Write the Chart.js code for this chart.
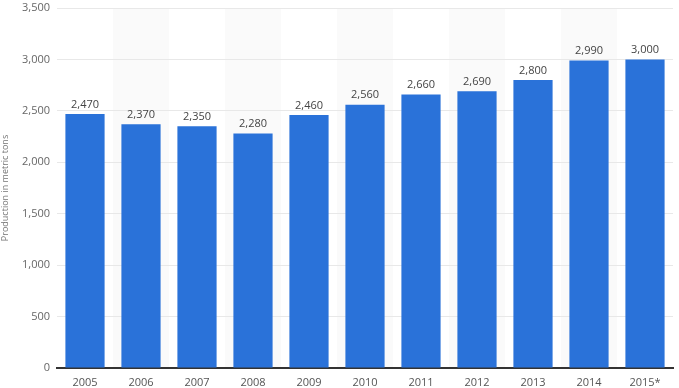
<!DOCTYPE html>
<html>
<head>
<meta charset="utf-8">
<script src="https://cdn.jsdelivr.net/npm/chart.js@4/dist/chart.umd.min.js"></script>
<style>
  html, body { margin: 0; padding: 0; background: #fff; }
  #wrap { width: 679px; height: 388px; }
</style>
</head>
<body>
<div id="wrap"><canvas id="prodChart" width="679" height="388"></canvas></div>
<script>
// ==============================
// DATA
// ==============================
const years = ["2005", "2006", "2007", "2008", "2009", "2010", "2011", "2012", "2013", "2014", "2015*"];
const production = [2470, 2370, 2350, 2280, 2460, 2560, 2660, 2690, 2800, 2990, 3000];
const yTicks = [0, 500, 1000, 1500, 2000, 2500, 3000, 3500];

const fmt = (v) => v.toLocaleString("en-US");

// alternating column bands
const bandPlugin = {
  id: "bands",
  beforeDraw(chart) {
    const { ctx, chartArea } = chart;
    const x = chart.scales.x;
    const step = x.getPixelForValue(1) - x.getPixelForValue(0);
    ctx.save();
    ctx.fillStyle = "#fafafa";
    years.forEach((y, i) => {
      if (i % 2 === 1) {
        const cx = x.getPixelForValue(i);
        ctx.fillRect(cx - step / 2, chartArea.top, step, chartArea.bottom - chartArea.top);
      }
    });
    ctx.restore();
  }
};

// value labels above bars
const valuePlugin = {
  id: "values",
  afterDatasetsDraw(chart) {
    const { ctx } = chart;
    const meta = chart.getDatasetMeta(0);
    ctx.save();
    ctx.font = "11px 'Open Sans', sans-serif";
    ctx.fillStyle = "#444";
    ctx.textAlign = "center";
    ctx.textBaseline = "bottom";
    meta.data.forEach((bar, i) => {
      ctx.fillText(fmt(production[i]), bar.x, bar.y - 4);
    });
    ctx.restore();
  }
};

new Chart(document.getElementById("prodChart").getContext("2d"), {
  type: "bar",
  data: {
    labels: years,
    datasets: [{
      data: production,
      backgroundColor: "#2a72d9",
      categoryPercentage: 1,
      barPercentage: 0.7
    }]
  },
  options: {
    responsive: false,
    animation: false,
    layout: { padding: { top: 0, right: 6, left: 0, bottom: 0 } },
    plugins: { legend: { display: false }, tooltip: { enabled: false } },
    scales: {
      x: {
        afterFit(scale) { scale.height = 20; },
        grid: { display: false },
        border: { color: "#333", width: 2 },
        ticks: { color: "#555", font: { size: 11, family: "'Open Sans', sans-serif" }, padding: 0 }
      },
      y: {
        min: 0,
        max: 3500,
        afterBuildTicks(scale) { scale.ticks = yTicks.map((v) => ({ value: v })); },
        afterFit(scale) { scale.width = 57; scale.paddingTop = 8; },
        grid: { color: "#e8e8e8", drawTicks: false },
        border: { display: false },
        ticks: {
          color: "#666",
          padding: 7,
          font: { size: 11, family: "'Open Sans', sans-serif" },
          callback: (v) => fmt(v)
        },
        title: {
          display: true,
          text: "Production in metric tons",
          color: "#777",
          font: { size: 9, family: "'Open Sans', sans-serif" },
          padding: { top: 0, bottom: 2 }
        }
      }
    }
  },
  plugins: [bandPlugin, valuePlugin]
});
</script>
</body>
</html>
